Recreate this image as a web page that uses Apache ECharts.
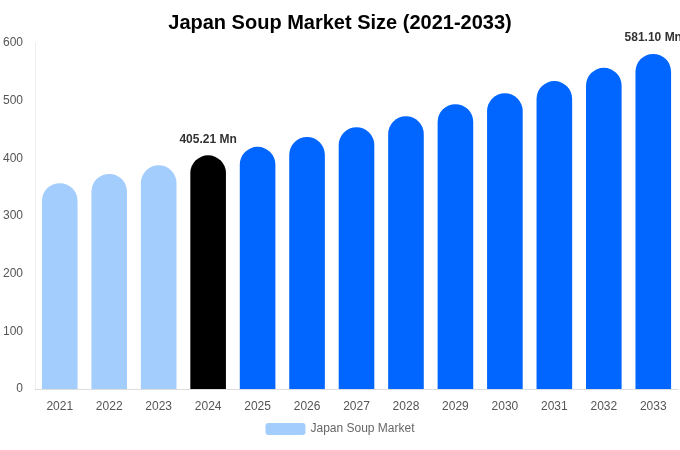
<!DOCTYPE html>
<html><head><meta charset="utf-8">
<script src="https://cdn.jsdelivr.net/npm/echarts@6/dist/echarts.min.js"></script>
<style>html,body{margin:0;padding:0}#c{width:680px;height:450px}</style>
</head><body><div id="c"></div>
<script>
const categories = ['2021','2022','2023','2024','2025','2026','2027','2028','2029','2030','2031','2032','2033'];
const values = [357, 373, 388, 405.21, 420, 437, 454, 473, 494, 513, 534, 557, 581.10];
const colors = ['#a3cdfd','#a3cdfd','#a3cdfd','#000000','#0066ff','#0066ff','#0066ff','#0066ff','#0066ff','#0066ff','#0066ff','#0066ff','#0066ff'];
const labelText = {3:'405.21 Mn', 12:'581.10 Mn'};
const chart = echarts.init(document.getElementById('c'));
chart.setOption({
  title:{text:'Japan Soup Market Size (2021-2033)',left:'center',top:8,textStyle:{fontFamily:'Liberation Sans, Arial',fontSize:20,fontWeight:'bold',color:'#000'}},
  legend:{bottom:10,itemWidth:40,itemHeight:12,data:[{name:'Japan Soup Market',itemStyle:{color:'#a3cdfd'}}],textStyle:{color:'#666',fontFamily:'Liberation Sans, Arial',fontSize:12}},
  grid:{left:35,right:2,top:43,bottom:61},
  xAxis:{type:'category',data:categories,axisTick:{show:false},axisLine:{lineStyle:{color:'#ddd'}},axisLabel:{color:'#555',fontSize:12,margin:12,fontFamily:'Liberation Sans, Arial'}},
  yAxis:{type:'value',min:0,max:600,interval:100,axisLine:{show:true,lineStyle:{color:'#eee'}},splitLine:{show:false},axisLabel:{color:'#555',fontSize:12,margin:12,fontFamily:'Liberation Sans, Arial'}},
  series:[{name:'Japan Soup Market',type:'bar',barWidth:'72%',
    data:values.map((v,i)=>({value:v,itemStyle:{color:colors[i],borderRadius:[18,18,0,0]},
      label:{show:!!labelText[i],position:'top',formatter:labelText[i]||'',fontWeight:'bold',fontSize:12,color:'#333',distance:10,fontFamily:'Liberation Sans, Arial'}}))}]
});
</script></body></html>
